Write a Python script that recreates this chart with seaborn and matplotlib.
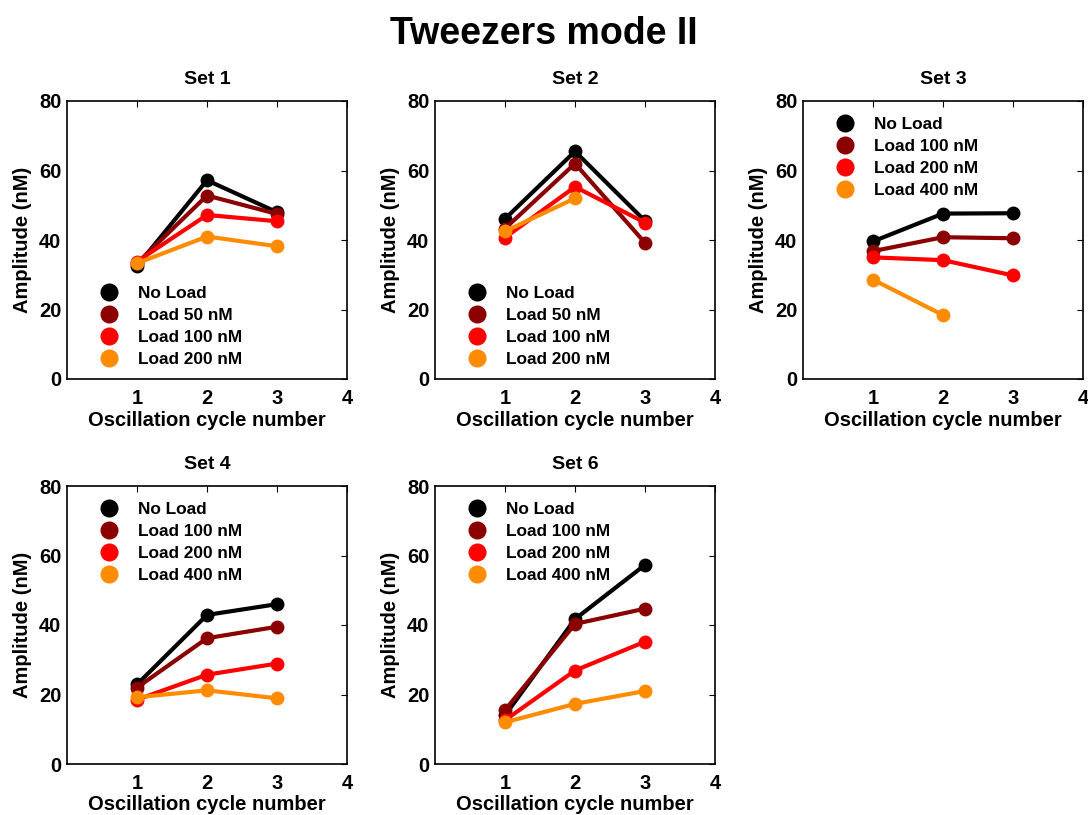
import numpy as np
import pandas as pd
import matplotlib
matplotlib.use("Agg")
import matplotlib.pyplot as plt
import seaborn as sns
from matplotlib.lines import Line2D

sns.set_theme(style="white")
plt.rcParams['font.family'] = ['Liberation Sans', 'DejaVu Sans']
plt.rcParams['font.weight'] = 'bold'
plt.rcParams['text.color'] = 'black'
plt.rcParams['axes.labelcolor'] = 'black'
plt.rcParams['xtick.color'] = 'black'
plt.rcParams['ytick.color'] = 'black'

cycles = [1, 2, 3]
colors = ["#000000", "#8B0000", "#FF0000", "#FF8C00"]

set1_labels = ["No Load", "Load 50 nM", "Load 100 nM", "Load 200 nM"]
set1_values = [[32.5, 57.2, 48.0],
               [33.3, 52.8, 47.5],
               [33.8, 47.2, 45.4],
               [33.3, 41.0, 38.2]]

set2_labels = ["No Load", "Load 50 nM", "Load 100 nM", "Load 200 nM"]
set2_values = [[46.1, 65.5, 45.5],
               [43.3, 62.0, 39.2],
               [40.7, 55.3, 45.0],
               [42.5, 52.0, None]]

set3_labels = ["No Load", "Load 100 nM", "Load 200 nM", "Load 400 nM"]
set3_values = [[39.6, 47.6, 47.7],
               [36.8, 40.8, 40.5],
               [35.0, 34.2, 29.8],
               [28.6, 18.4, None]]

set4_labels = ["No Load", "Load 100 nM", "Load 200 nM", "Load 400 nM"]
set4_values = [[22.9, 42.9, 46.0],
               [22.0, 36.2, 39.5],
               [18.5, 25.7, 28.9],
               [19.2, 21.2, 18.9]]

set6_labels = ["No Load", "Load 100 nM", "Load 200 nM", "Load 400 nM"]
set6_values = [[14.0, 41.7, 57.3],
               [15.5, 40.3, 44.7],
               [12.6, 26.9, 35.2],
               [12.0, 17.3, 21.0]]

panels = [
    ("Set 1", set1_labels, set1_values, "lower left"),
    ("Set 2", set2_labels, set2_values, "lower left"),
    ("Set 3", set3_labels, set3_values, "upper left"),
    ("Set 4", set4_labels, set4_values, "upper left"),
    ("Set 6", set6_labels, set6_values, "upper left"),
]

fig = plt.figure(figsize=(10.88, 8.15), dpi=100)
W, H = 1088, 815
lefts = [67, 435, 803]
rows = [(101, 379), (486, 764)]

for i, (title, labels, values, loc) in enumerate(panels):
    r, c = divmod(i, 3)
    top, bot = rows[r]
    left = lefts[c]
    ax = fig.add_axes([left / W, 1 - bot / H, 280 / W, (bot - top) / H])
    recs = []
    for lab, vals in zip(labels, values):
        for x, v in zip(cycles, vals):
            if v is not None:
                recs.append({"cycle": x, "amp": v, "series": lab})
    df = pd.DataFrame(recs)
    sns.lineplot(data=df, x="cycle", y="amp", hue="series", hue_order=labels,
                 palette=colors, marker="o", markersize=10, markeredgewidth=0,
                 linewidth=3, legend=False, ax=ax, sort=False)
    ax.set_xlim(0, 4)
    ax.set_ylim(0, 80)
    ax.set_xticks([1, 2, 3, 4])
    ax.set_yticks([0, 20, 40, 60, 80])
    ax.tick_params(direction="in", length=4, width=0.8, top=True, right=True,
                   labelsize=14.5, colors="black")
    ax.tick_params(axis="x", pad=7)
    ax.tick_params(axis="y", pad=4)
    for lbl in ax.get_xticklabels() + ax.get_yticklabels():
        lbl.set_fontweight("bold")
    for s in ax.spines.values():
        s.set_color("black")
        s.set_linewidth(1.2)
    ax.set_xlabel("Oscillation cycle number", fontsize=14.5, fontweight="bold", labelpad=2)
    ax.set_ylabel("Amplitude (nM)", fontsize=14.5, fontweight="bold", labelpad=5)
    ax.set_title(title, fontsize=14, fontweight="bold", pad=12)
    handles = [Line2D([], [], color=col, marker="o", linestyle="none",
                      markersize=13, markeredgewidth=0) for col in colors]
    if loc == "lower left":
        anchor = (0.045, 0.0)
    else:
        anchor = (0.045, 0.985)
    ax.legend(handles, labels, loc=loc, bbox_to_anchor=anchor, frameon=False,
              prop={"size": 12.4, "weight": "bold"}, handletextpad=0.7,
              labelspacing=0.4, borderaxespad=0.3)

fig.suptitle("Tweezers mode II", fontsize=27, fontweight="bold", y=0.98)
fig.savefig("out.png", dpi=100, facecolor="white")
